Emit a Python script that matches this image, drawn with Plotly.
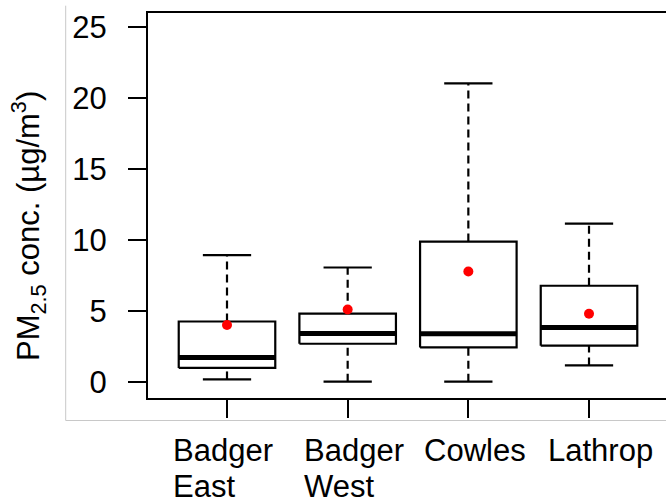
import plotly.graph_objects as go

# ---- data ----
categories = ["Badger East", "Badger West", "Cowles", "Lathrop"]
whisker_low = [0.16, 0.0, 0.0, 1.15]
q1 = [0.97, 2.68, 2.42, 2.54]
median = [1.71, 3.41, 3.39, 3.83]
q3 = [4.25, 4.80, 9.89, 6.77]
whisker_high = [8.93, 8.06, 21.06, 11.16]
means = [4.00, 5.10, 7.78, 4.80]
y_ticks = [0, 5, 10, 15, 20, 25]

# ---- style ----
FONT = "Liberation Sans, Arial, sans-serif"
FS = 31
W, H = 666, 504
L, R, T, B = 148, 0, 13, 106
BOX_HW = 0.4
CAP_HW = 0.2

fig = go.Figure()
xs = list(range(1, len(categories) + 1))

for i, x in enumerate(xs):
    # box rectangle
    fig.add_trace(go.Scatter(
        x=[x - BOX_HW, x + BOX_HW, x + BOX_HW, x - BOX_HW, x - BOX_HW],
        y=[q1[i], q1[i], q3[i], q3[i], q1[i]],
        mode="lines", line=dict(color="black", width=2.2),
        hoverinfo="skip", showlegend=False))
    # median
    fig.add_trace(go.Scatter(
        x=[x - BOX_HW, x + BOX_HW], y=[median[i], median[i]],
        mode="lines", line=dict(color="black", width=5),
        hoverinfo="skip", showlegend=False))
    # whiskers (dashed)
    for a, b in ((whisker_low[i], q1[i]), (q3[i], whisker_high[i])):
        fig.add_trace(go.Scatter(
            x=[x, x], y=[a, b], mode="lines",
            line=dict(color="black", width=2.2, dash="8px,5px"),
            hoverinfo="skip", showlegend=False))
    # caps
    for v in (whisker_low[i], whisker_high[i]):
        fig.add_trace(go.Scatter(
            x=[x - CAP_HW, x + CAP_HW], y=[v, v], mode="lines",
            line=dict(color="black", width=2.2),
            hoverinfo="skip", showlegend=False))

# means
fig.add_trace(go.Scatter(
    x=xs, y=means, mode="markers",
    marker=dict(color="red", size=10, line=dict(width=0)),
    showlegend=False))

plot_w = W - L - R
plot_h = H - T - B

def px_x(p):
    return (p - L) / plot_w

def px_y(p):
    return (H - B - p) / plot_h

annotations = []
label_shift = [-55, -45, -45, -42]
line_tops = [432, 468]
for i, name in enumerate(categories):
    for j, part in enumerate(name.split(" ")):
        annotations.append(dict(
            x=xs[i], y=px_y(line_tops[j]), xref="x", yref="paper",
            text=part, showarrow=False,
            xanchor="left", yanchor="top", align="left",
            xshift=label_shift[i], borderpad=0,
            font=dict(family=FONT, size=FS, color="black")))

annotations.append(dict(
    x=px_x(28), y=px_y(226), xref="paper", yref="paper",
    text="PM<sub>2.5</sub> conc. (µg/m<sup>3</sup>)", showarrow=False,
    textangle=-90, xanchor="center", yanchor="middle",
    font=dict(family=FONT, size=FS, color="black")))

shapes = [
    dict(type="line", xref="paper", yref="paper",
         x0=px_x(65.7), x1=px_x(65.7), y0=px_y(5.7), y1=px_y(420.5),
         line=dict(color="#c8c8c8", width=1)),
    dict(type="line", xref="paper", yref="paper",
         x0=px_x(65.7), x1=px_x(666), y0=px_y(420.5), y1=px_y(420.5),
         line=dict(color="#c8c8c8", width=1)),
]

fig.update_layout(
    width=W, height=H,
    margin=dict(l=L, r=R, t=T, b=B, pad=0),
    paper_bgcolor="white", plot_bgcolor="white",
    font=dict(family=FONT, size=FS, color="black"),
    annotations=annotations, shapes=shapes,
    xaxis=dict(range=[0.3453, 4.638], tickvals=xs, showticklabels=False,
               showgrid=False, zeroline=False, showline=True, mirror=True,
               linecolor="black", linewidth=2,
               ticks="outside", ticklen=18, tickwidth=2, tickcolor="black"),
    yaxis=dict(range=[-1.15, 26.02], tickvals=y_ticks,
               showgrid=False, zeroline=False, showline=True, mirror=False,
               linecolor="black", linewidth=2,
               ticks="outside", ticklen=18, tickwidth=2, tickcolor="black",
               ticklabelstandoff=15,
               tickfont=dict(family=FONT, size=FS, color="black")),
)

fig.write_html("out.html")
